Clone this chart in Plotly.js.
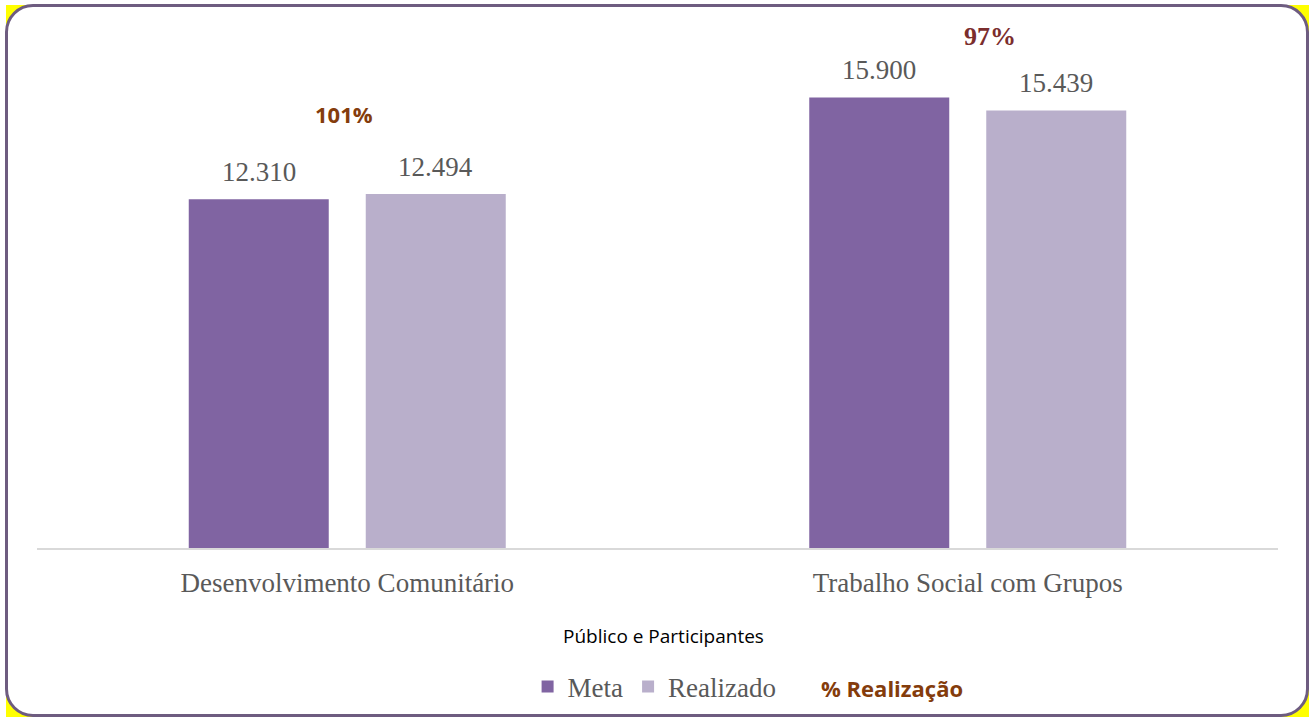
<!DOCTYPE html>
<html>
<head>
<meta charset="utf-8">
<script src="https://cdn.plot.ly/plotly-3.0.1.min.js"></script>
<style>
  html, body { margin: 0; padding: 0; background: #ffffff; width: 1309px; height: 717px; overflow: hidden; }
  #yellow { position: absolute; left: 6px; top: 5px; width: 1303px; height: 712px; background: #ffff00; }
  #frame { position: absolute; left: 5px; top: 4px; width: 1298px; height: 707px; background: #ffffff;
           border: 3px solid #6e5c80; border-radius: 28px; }
  #chart { position: absolute; left: 0; top: 0; width: 1309px; height: 717px; }
</style>
</head>
<body>
<div id="yellow"></div>
<div id="frame"></div>
<div id="chart"></div>
<script>
const categories = ['Desenvolvimento Comunitário', 'Trabalho Social com Grupos'];
const meta = [12310, 15900];
const realizado = [12494, 15439];
const pctLabels = ['101%', '97%'];
const seriesNames = ['Meta', 'Realizado', '% Realização'];
const chartTitle = 'Público e Participantes';

const fmt = v => String(v).replace(/\B(?=(\d{3})+(?!\d))/g, '.');

const labelFont = {family: 'Liberation Serif, Times New Roman, serif', size: 27, color: '#595959'};

const traces = [
  {type: 'bar', name: seriesNames[0], x: categories, y: meta, marker: {color: '#8064A2'}, hoverinfo: 'skip'},
  {type: 'bar', name: seriesNames[1], x: categories, y: realizado, marker: {color: '#B9AFCB'}, hoverinfo: 'skip'},
  {type: 'scatter', mode: 'lines', x: categories, y: [null, null], line: {color: 'rgba(0,0,0,0)', width: 0},
   name: '<b><span style="font-family:\'Open Sans\', sans-serif;font-size:22px;color:#843C0C">' + seriesNames[2] + '</span></b>',
   hoverinfo: 'skip'}
];

const annotations = [];
categories.forEach((c, i) => {
  annotations.push({x: c, y: meta[i], xref: 'x', yref: 'y', text: fmt(meta[i]), showarrow: false,
    xshift: -88.5, yshift: 27, yanchor: 'middle', font: labelFont});
  annotations.push({x: c, y: realizado[i], xref: 'x', yref: 'y', text: fmt(realizado[i]), showarrow: false,
    xshift: 88.5, yshift: 27, yanchor: 'middle', font: labelFont});
});
annotations.push({x: categories[0], xref: 'x', y: 0.822, yref: 'paper', text: '<b>' + pctLabels[0] + '</b>',
  showarrow: false, xshift: -3, yanchor: 'middle',
  font: {family: 'Open Sans, sans-serif', size: 22, color: '#843C0C'}});
annotations.push({x: categories[1], xref: 'x', y: 0.968, yref: 'paper', text: '<b>' + pctLabels[1] + '</b>',
  showarrow: false, xshift: 22, yanchor: 'middle',
  font: {family: 'Liberation Serif, Times New Roman, serif', size: 26, color: '#7B2D2D'}});
annotations.push({x: 0.505, xref: 'paper', y: -0.166, yref: 'paper', text: chartTitle, showarrow: false,
  yanchor: 'middle', font: {family: 'Open Sans, sans-serif', size: 19, color: '#000000'}});

const layout = {
  width: 1309, height: 717,
  margin: {l: 37, r: 31, t: 20, b: 169, autoexpand: false},
  paper_bgcolor: 'rgba(0,0,0,0)',
  plot_bgcolor: 'rgba(0,0,0,0)',
  barmode: 'group',
  bargap: 0.4295,
  bargroupgap: 0.209,
  showlegend: true,
  legend: {orientation: 'h', x: 0.573, xanchor: 'center', yref: 'container', y: 0.0418, yanchor: 'middle',
           font: labelFont, bgcolor: 'rgba(0,0,0,0)', traceorder: 'normal'},
  xaxis: {showline: true, linecolor: '#D9D9D9', linewidth: 2, ticks: '', showgrid: false,
          tickfont: labelFont, ticklabelstandoff: 10, fixedrange: true, automargin: false},
  yaxis: {range: [0, 18631], visible: false, showgrid: false, zeroline: false, fixedrange: true},
  annotations: annotations,
  hovermode: false
};

Plotly.newPlot('chart', traces, layout, {displayModeBar: false, staticPlot: true});
</script>
</body>
</html>
